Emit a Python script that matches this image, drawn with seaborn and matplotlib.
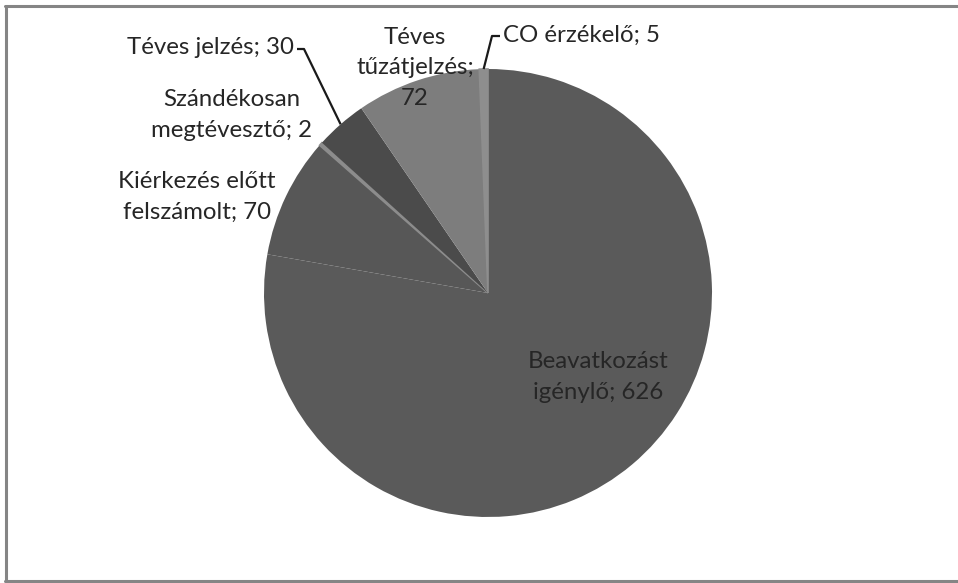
import numpy as np
import matplotlib
matplotlib.use("Agg")
import matplotlib.pyplot as plt
import seaborn as sns

# Riasztások megoszlása
categories = [
    "Beavatkozást\nigénylő",
    "Kiérkezés előtt\nfelszámolt",
    "Szándékosan\nmegtévesztő",
    "Téves jelzés",
    "Téves\ntűzátjelzés;\n",
    "CO érzékelő",
]
values = [626, 70, 2, 30, 72, 5]
colors = ["#5a5a5a", "#575757", "#8c8c8c", "#4b4b4b", "#7d7d7d", "#8e8e8e"]

sns.set_theme(style="white")
plt.rcParams["font.family"] = ["Lato", "DejaVu Sans"]

W, H = 958, 583
fig = plt.figure(figsize=(W / 100, H / 100), dpi=100)
fig.patch.set_facecolor("white")

# pie centre and radius in pixels
cx, cy, r = 488, 293, 224
ax = fig.add_axes([(cx - r) / W, (H - cy - r) / H, 2 * r / W, 2 * r / H])
wedges, _ = ax.pie(values, colors=colors, startangle=90, counterclock=False,
                   wedgeprops=dict(linewidth=0, antialiased=True))
# the tiny slices get a light outline so they stay visible as thin stripes
for i in (2, 5):
    wedges[i].set_edgecolor(colors[i])
    wedges[i].set_linewidth(1.2)
ax.set_xlim(-1, 1)
ax.set_ylim(-1, 1)
ax.set_aspect("equal")
ax.axis("off")


def px(x, y):
    """pixel position -> data coordinates of the pie axes"""
    return (x - cx) / r, (cy - y) / r


txt = dict(fontsize=17.3, color="#262626", linespacing=1.58, clip_on=False)

labels = [f"{c}; {v}" if not c.endswith("\n") else f"{c}{v}"
          for c, v in zip(categories, values)]

# label placements
x, y = px(598, 377)
ax.text(x, y, labels[0], ha="center", va="center", **txt)
x, y = px(197, 197)
ax.text(x, y, labels[1], ha="center", va="center", **txt)
x, y = px(232, 115)
ax.text(x, y, labels[2], ha="center", va="center", **txt)
x, y = px(294, 47)
ax.text(x, y, labels[3], ha="right", va="center", **txt)
x, y = px(415, 68)
ax.text(x, y, labels[4], ha="center", va="center", **txt)
x, y = px(503, 35)
ax.text(x, y, labels[5], ha="left", va="center", **txt)

# leader lines from slice edge to the label
total = sum(values)
cum = np.cumsum(values)
mid = cum - np.array(values) / 2
ang = np.deg2rad(90 - 360 * mid / total)

def leader(i, knee, end):
    ex, ey = np.cos(ang[i]), np.sin(ang[i])
    kx, ky = px(*knee)
    tx, ty = px(*end)
    ax.plot([ex, kx, tx], [ey, ky, ty], color="#1a1a1a", lw=1.6,
            clip_on=False, solid_capstyle="butt")

leader(3, (304, 49), (297, 49))
leader(5, (492, 36), (500, 36))

# chart-area frame (left, top, bottom)
frame = dict(color="#858585", lw=2.2, transform=fig.transFigure, clip_on=False)
fig.add_artist(plt.Line2D([6 / W, 6 / W], [1 - 6 / H, 1 - 581 / H], **frame))
fig.add_artist(plt.Line2D([5 / W, 1], [1 - 6 / H, 1 - 6 / H], **frame))
fig.add_artist(plt.Line2D([5 / W, 1], [1 - 581 / H, 1 - 581 / H], **frame))

fig.savefig("out.png", dpi=100, facecolor="white")
